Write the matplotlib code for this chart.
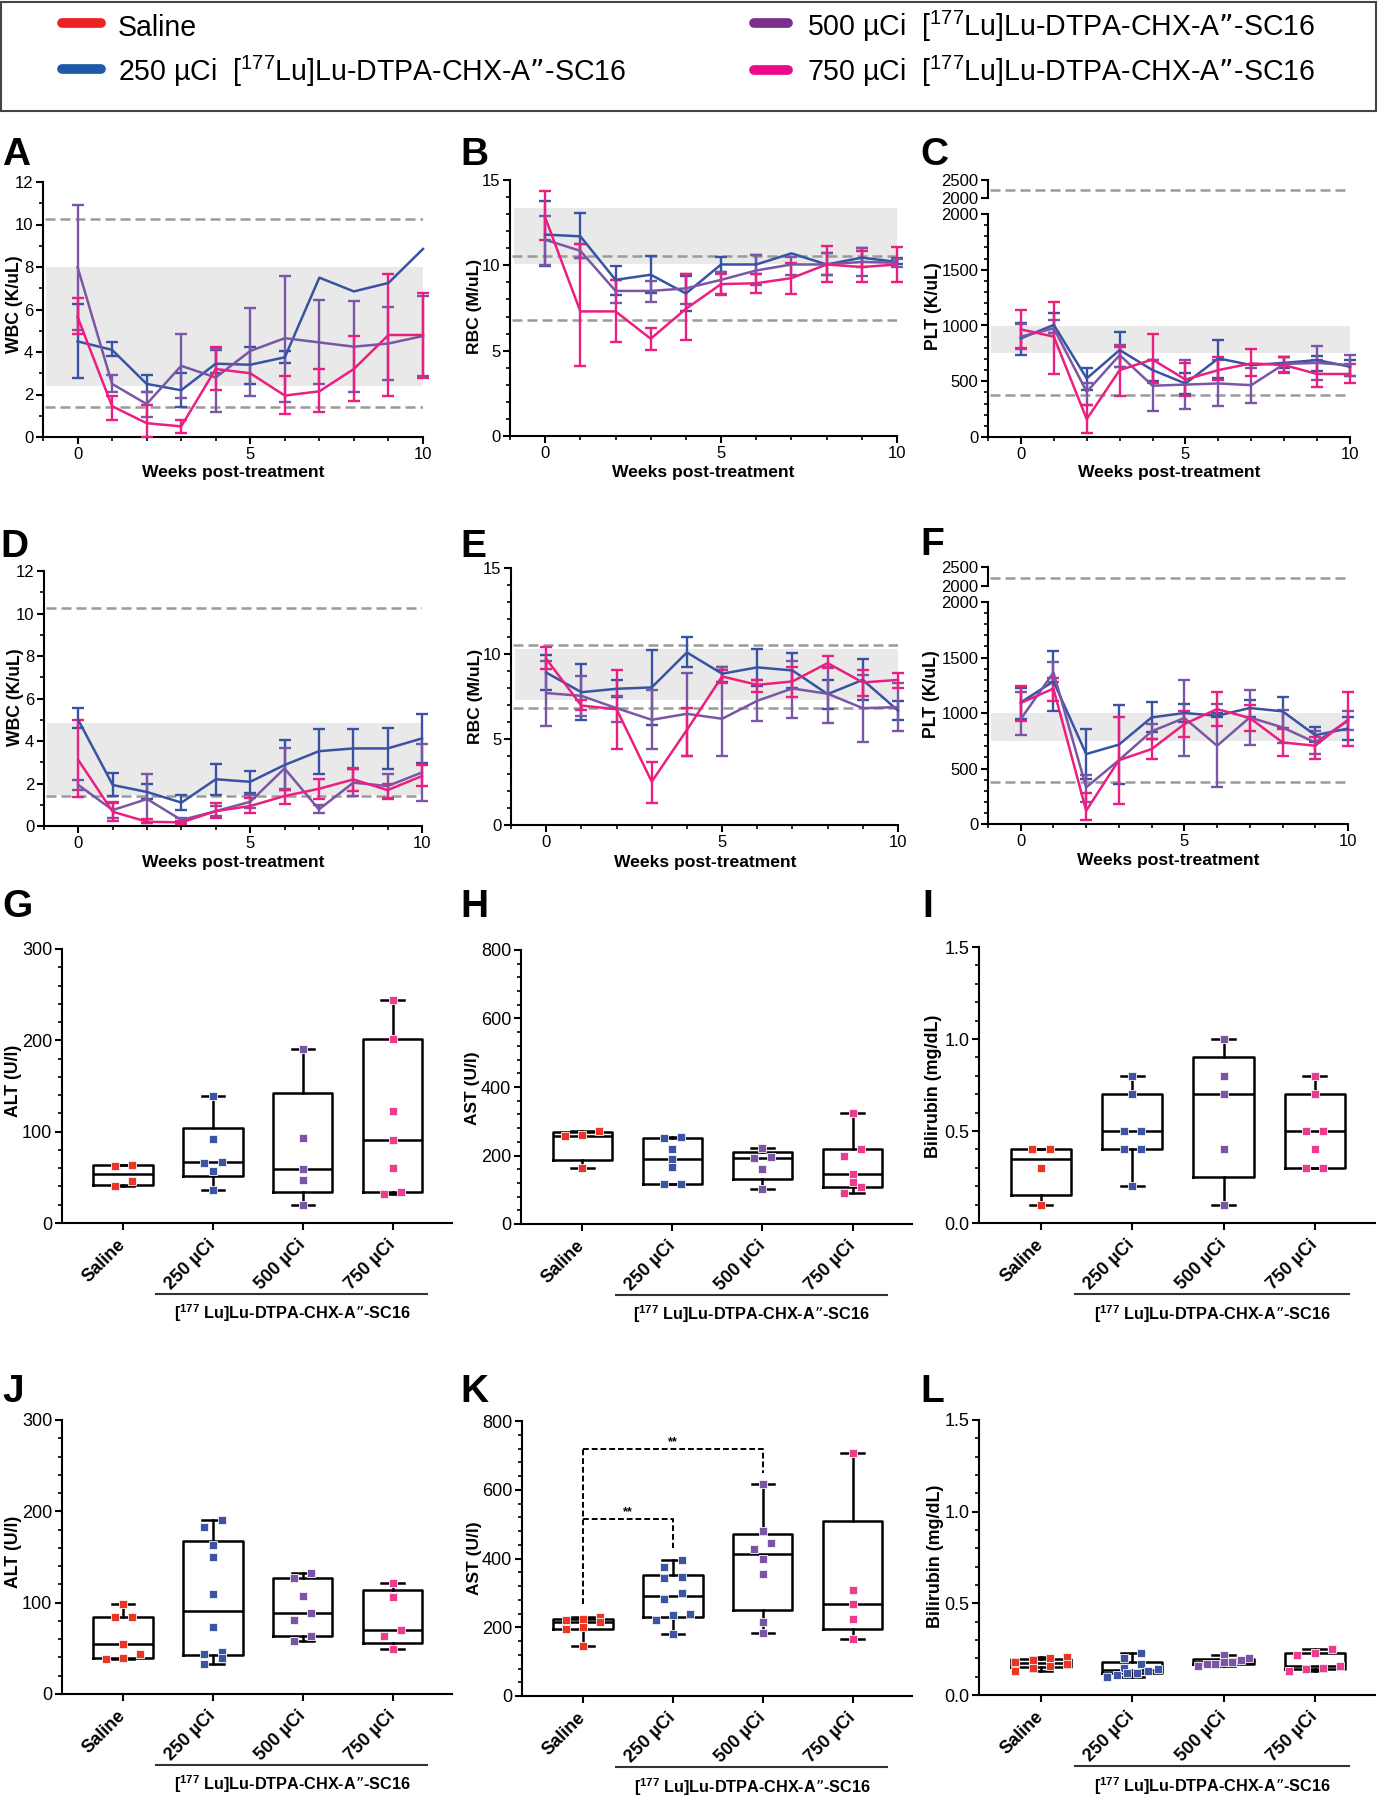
import numpy as np
import matplotlib
matplotlib.use('Agg')
import matplotlib.pyplot as plt
from matplotlib import font_manager as fm
from matplotlib.lines import Line2D
from matplotlib.patches import Rectangle
import matplotlib.ticker as mt
import matplotlib.transforms as mtrans

nan = np.nan

# ---------------------------------------------------------------- data
WEEKS = list(range(11))
GROUP_NAMES = ['Saline', '250 µCi', '500 µCi', '750 µCi']
LEGEND_LABELS = ['Saline',
                 '250 µCi  [$^{177}$Lu]Lu-DTPA-CHX-A”-SC16',
                 '500 µCi  [$^{177}$Lu]Lu-DTPA-CHX-A”-SC16',
                 '750 µCi  [$^{177}$Lu]Lu-DTPA-CHX-A”-SC16']
AGENT_LABEL = '[$^{177}$ Lu]Lu-DTPA-CHX-A”-SC16'

# Panel A  WBC
A_250 = [4.5, 4.1, 2.5, 2.2, 3.45, 3.4, 3.75, 7.5, 6.85, 7.25, 8.85]
A_250_lo = [2.8, 3.8, 2.1, 1.4, 3.0, 2.5, 3.5, nan, nan, nan, nan]
A_250_hi = [6.25, 4.45, 2.9, 3.0, 4.1, 4.25, 4.05, nan, nan, nan, nan]
A_500 = [8.0, 2.5, 1.55, 3.35, 2.8, 4.05, 4.65, 4.45, 4.25, 4.4, 4.75]
A_500_lo = [5.05, 2.1, 0.95, 1.85, 1.2, 1.95, 1.65, 2.5, 2.1, 2.7, 2.85]
A_500_hi = [10.9, 2.9, 2.1, 4.85, 4.15, 6.05, 7.6, 6.45, 6.4, 6.1, 6.65]
A_750 = [5.65, 1.45, 0.65, 0.5, 3.2, 3.0, 1.95, 2.15, 3.2, 4.8, 4.8]
A_750_lo = [4.85, 0.8, 0.0, 0.2, 2.2, nan, 1.1, 1.2, 1.7, 1.95, 2.8]
A_750_hi = [6.55, 1.95, 1.5, 0.8, 4.25, nan, 2.85, 3.2, 4.75, 7.65, 6.8]
A_band = [2.4, 8.0]
A_ref = [10.25, 1.42]

# Panel B  RBC
B_250 = [11.8, 11.7, 9.15, 9.45, 8.35, 10.05, 10.05, 10.7, 10.05, 10.45, 10.2]
B_250_lo = [9.95, 10.45, 8.25, 8.35, 7.35, 9.6, 9.5, nan, 9.45, 9.9, 10.1]
B_250_hi = [13.75, 13.05, 9.95, 10.55, 9.35, 10.5, 10.6, nan, 10.75, 11.0, 10.45]
B_500 = [11.5, 10.85, 8.5, 8.5, 8.65, 9.15, 9.7, 10.05, 10.05, 10.2, 10.15]
B_500_lo = [10.0, 10.45, 7.8, 7.85, 7.75, 8.3, 8.85, 9.45, 9.45, 9.4, 9.9]
B_500_hi = [12.9, 11.25, 9.15, 9.1, 9.5, 9.6, 10.6, 10.5, 10.7, 11.0, 10.4]
B_750 = [12.8, 7.3, 7.3, 5.7, 7.45, 8.9, 8.95, 9.25, 10.05, 9.9, 10.05]
B_750_lo = [11.5, 4.1, 5.5, 5.05, 5.65, 8.25, 8.35, 8.3, 9.05, 9.0, 9.05]
B_750_hi = [14.35, 11.25, 9.15, 6.35, 9.5, 9.5, 9.5, 10.15, 11.15, 10.85, 11.05]
B_band = [10.05, 13.35]
B_ref = [10.55, 6.82]

# Panel C  PLT
C_250 = [885, 1005, 525, 780, 600, 480, 705, 645, 665, 690, 630]
C_250_lo = [735, 930, 425, 630, 505, 385, 530, nan, 615, 595, 545]
C_250_hi = [1020, 1110, 620, 940, 695, 570, 870, nan, 715, 725, 690]
C_500 = [900, 975, 405, 735, 460, 470, 480, 465, 655, 665, 645]
C_500_lo = [790, 930, 285, 630, 235, 255, 275, 305, 575, 510, 545]
C_500_hi = [1010, 1050, 480, 825, 695, 690, 690, 615, 720, 820, 735]
C_750 = [965, 900, 160, 600, 695, 515, 600, 660, 645, 565, 565]
C_750_lo = [795, 565, 35, 370, 480, 365, 510, 545, 585, 450, 480]
C_750_hi = [1140, 1210, 285, 810, 925, 660, 715, 785, 720, 690, 655]
C_band = [750, 1000]
C_ref = [2210, 375]

# Panel D  WBC
D_250 = [4.98, 1.93, 1.6, 1.1, 2.2, 2.08, 2.87, 3.52, 3.65, 3.65, 4.12]
D_250_lo = [4.62, 1.4, 1.25, 0.75, 1.45, 1.55, 1.7, 2.43, 2.7, 2.68, 2.95]
D_250_hi = [5.53, 2.48, 1.96, 1.44, 2.9, 2.58, 4.07, 4.56, 4.57, 4.59, 5.25]
D_500 = [1.93, 0.75, 1.27, 0.28, 0.7, 1.14, 2.71, 0.78, 2.04, 1.88, 2.52]
D_500_lo = [1.69, 0.36, 0.13, 0.16, 0.47, 0.83, 1.75, 0.6, 1.43, 1.33, 1.17]
D_500_hi = [2.16, 1.14, 2.43, 0.39, 0.94, 1.46, 3.65, 0.99, 2.74, 2.43, 3.85]
D_750 = [3.1, 0.67, 0.2, 0.17, 0.7, 0.94, 1.41, 1.75, 2.19, 1.69, 2.35]
D_750_lo = [1.38, 0.24, 0.13, 0.09, 0.36, 0.6, 1.03, 1.25, 1.66, 1.25, 1.88]
D_750_hi = [4.98, 1.1, 0.31, 0.25, 1.1, 1.3, 1.69, 2.21, 2.68, 2.0, 2.87]
D_band = [1.45, 4.85]
D_ref = [10.25, 1.42]

# Panel E  RBC
E_250 = [8.9, 7.75, 7.95, 8.03, 10.07, 8.83, 9.2, 9.02, 7.64, 8.47, 6.68]
E_250_lo = [7.89, 6.14, 7.46, 5.81, 9.21, 8.32, 8.09, 8.0, 6.76, 7.27, 6.1]
E_250_hi = [9.94, 9.41, 8.47, 10.23, 10.95, 9.25, 10.29, 10.03, 8.47, 9.68, 7.21]
E_500 = [7.7, 7.54, 6.82, 6.14, 6.49, 6.2, 7.25, 7.97, 7.66, 6.82, 6.88]
E_500_lo = [5.75, 6.37, 6.04, 4.44, 4.05, 4.03, 6.08, 6.27, 5.94, 4.87, 5.51]
E_500_hi = [9.6, 8.67, 7.54, 7.89, 8.9, 9.2, 8.47, 9.6, 9.25, 8.73, 8.28]
E_750 = [9.7, 6.97, 6.76, 2.53, 5.55, 8.67, 8.18, 8.38, 9.45, 8.32, 8.47]
E_750_lo = [9.12, 6.72, 4.42, 1.31, 4.05, 8.28, 7.79, 7.46, 9.16, 7.54, 7.99]
E_750_hi = [10.4, 7.31, 9.06, 3.7, 6.82, 9.06, 8.47, 9.25, 9.84, 9.02, 8.86]
E_band = [7.27, 10.25]
E_ref = [10.5, 6.8]

# Panel F  PLT
F_250 = [1095, 1285, 630, 715, 960, 1000, 975, 1045, 1015, 800, 860]
F_250_lo = [945, 1015, 405, 360, 825, 915, 960, 960, 865, 735, 760]
F_250_hi = [1225, 1555, 855, 1070, 1100, 1085, 1000, 1120, 1145, 870, 960]
F_500 = [945, 1365, 330, 575, 835, 955, 705, 960, 870, 735, 930]
F_500_lo = [805, 1275, 200, nan, 765, 615, 330, 715, 730, 630, 850]
F_500_hi = [1185, 1460, 440, nan, 900, 1300, 1085, 1205, 1025, 840, 1015]
F_750 = [1090, 1220, 120, 575, 675, 900, 1035, 955, 735, 705, 940]
F_750_lo = [925, 1110, 35, 180, 585, 780, 880, 840, 610, 590, 705]
F_750_hi = [1245, 1315, 275, 960, 765, 1020, 1190, 1070, 860, 780, 1190]
F_band = [750, 1000]
F_ref = [2210, 375]

# Box panels (individual animals)
G_saline = [62.7, 63.8, 40.1, 45.6]
G_250 = [139, 92, 66, 67, 57, 36]
G_500 = [191, 93, 59, 47, 20]
G_750 = [244, 201, 123, 91, 60, 32, 34]
H_saline = [272, 256, 260, 164]
H_250 = [253, 250, 219, 190, 166, 118, 118]
H_500 = [222, 192, 197, 160, 103]
H_750 = [324, 220, 200, 146, 122, 107, 90]
I_saline = [0.4, 0.4, 0.3, 0.1]
I_250 = [0.8, 0.7, 0.5, 0.5, 0.4, 0.4, 0.2]
I_500 = [1.0, 0.8, 0.7, 0.4, 0.1]
I_750 = [0.8, 0.7, 0.5, 0.5, 0.4, 0.3, 0.3]
J_saline = [98, 84, 84, 55, 44, 38, 39]
J_250 = [190, 183, 163, 150, 109, 73, 46, 44, 39, 33]
J_500 = [132, 127, 107, 89, 81, 63, 58]
J_750 = [121, 106, 70, 63, 49]
K_saline = [230, 224, 220, 215, 200, 196, 145]
K_250 = [395, 375, 345, 343, 300, 283, 238, 235, 220, 180]
K_500 = [616, 479, 446, 429, 400, 356, 215, 183]
K_750 = [708, 309, 267, 223, 167]
L_saline = [0.21, 0.2, 0.19, 0.18, 0.17, 0.16, 0.15, 0.13]
L_250 = [0.23, 0.2, 0.17, 0.15, 0.14, 0.13, 0.12, 0.12, 0.11, 0.10]
L_500 = [0.22, 0.2, 0.19, 0.18, 0.18, 0.17, 0.17, 0.16]
L_750 = [0.25, 0.23, 0.22, 0.16, 0.15, 0.14, 0.13]

# Significance in K: (group a, group b, bracket height, drop end, label)
K_sig = [(1, 2, 514, 430, '**'), (1, 3, 718, 650, '**')]
K_sig_base = 268

# ---------------------------------------------------------------- style
LINE_COLORS = ['#3953a4', '#7a56a6', '#ec1f80']
BOX_COLORS = ['#ee3424', '#3b54a6', '#7b55a5', '#ee3a8f']
LEG_COLORS = ['#ee2024', '#1f5aa8', '#7d2f8e', '#ec098c']

W, H = 1378, 1800
fig = plt.figure(figsize=(W / 100, H / 100), dpi=100)

names = {f.name for f in fm.fontManager.ttflist}
BASE = 'Liberation Sans' if 'Liberation Sans' in names else 'DejaVu Sans'
NARROW = 'Liberation Sans Narrow' if 'Liberation Sans Narrow' in names else BASE
plt.rcParams['font.family'] = [BASE, 'DejaVu Sans']
plt.rcParams['mathtext.default'] = 'regular'

renderer = fig.canvas.get_renderer()


def px_axes(l, t, r, b):
    return fig.add_axes([l / W, 1 - b / H, (r - l) / W, (b - t) / H])


def ftext(x, y, s, **kw):
    return fig.text(x / W, 1 - y / H, s, **kw)


def fit_width(t, target, vertical=False):
    bb = t.get_window_extent(renderer)
    w = bb.height if vertical else bb.width
    if w > 0:
        t.set_fontsize(t.get_fontsize() * target / w)


def style(ax, labelsize=12):
    for s in ['top', 'right']:
        ax.spines[s].set_visible(False)
    for s in ['left', 'bottom']:
        ax.spines[s].set_linewidth(1.5)
    ax.tick_params(which='major', length=5, width=1.5, labelsize=labelsize,
                   pad=2, labelfontfamily=NARROW)
    ax.tick_params(which='minor', length=3, width=1.2)


def line_panel(rect, series, ylim, major, minor, band, refs):
    ax = px_axes(*rect)
    ax.fill_between([-0.9, 10], band[0], band[1], color='#e9e9e9', lw=0, zorder=0)
    for r in refs:
        ax.plot([-0.95, 10], [r, r], color='#9a9a9a', lw=1.8, dashes=(4, 2), zorder=1)
    for (m, lo, hi), col in zip(series, LINE_COLORS):
        m = np.asarray(m, float)
        lo = np.asarray(lo, float)
        hi = np.asarray(hi, float)
        ax.errorbar(WEEKS, m, yerr=[m - lo, hi - m], color=col, lw=1.8,
                    elinewidth=1.7, capsize=4, capthick=1.7, zorder=3, clip_on=False)
    ax.set_xlim(-1, 10)
    ax.set_ylim(*ylim)
    ax.xaxis.set_major_locator(mt.FixedLocator([0, 5, 10]))
    ax.xaxis.set_minor_locator(mt.MultipleLocator(1))
    ax.yaxis.set_major_locator(mt.MultipleLocator(major))
    ax.yaxis.set_minor_locator(mt.MultipleLocator(minor))
    style(ax)
    return ax


def plt_panel(rect_main, rect_top, series, band, refs):
    ax = line_panel(rect_main, series, (0, 2000), 500, 100, band, refs[1:])
    at = px_axes(*rect_top)
    at.set_xlim(-1, 10)
    at.set_ylim(2000, 2500)
    at.plot([-0.95, 10], [refs[0], refs[0]], color='#9a9a9a', lw=1.8, dashes=(4, 2))
    for s in ['top', 'right', 'bottom']:
        at.spines[s].set_visible(False)
    at.set_xticks([])
    at.set_yticks([2000, 2500])
    at.patch.set_alpha(0)
    style(at)
    return ax


def swarm(vals, ylim, h_px, thr=8.0, step=0.19, maxspan=0.56):
    v = np.asarray(vals, float)
    ypx = (v - ylim[0]) / (ylim[1] - ylim[0]) * h_px
    order = np.argsort(ypx, kind='stable')
    offs = np.zeros(len(v))
    groups, cur = [], [order[0]]
    for i in order[1:]:
        if ypx[i] - ypx[cur[0]] < thr:
            cur.append(i)
        else:
            groups.append(cur)
            cur = [i]
    groups.append(cur)
    for g in groups:
        k = len(g)
        st = step if k < 2 else min(step, maxspan / (k - 1))
        for j, idx in enumerate(g):
            offs[idx] = (j - (k - 1) / 2) * st
    return offs


def box_panel(rect, groups, ylim, major, minor, fmt=None):
    ax = px_axes(*rect)
    stats = []
    for g in groups:
        v = np.asarray(g, float)
        q1, med, q3 = np.percentile(v, [25, 50, 75], method='weibull')
        stats.append(dict(med=med, q1=q1, q3=q3, whislo=v.min(), whishi=v.max(), fliers=[]))
    lp = dict(color='black', linewidth=1.8)
    ax.bxp(stats, positions=[1, 2, 3, 4], widths=0.66, showfliers=False,
           boxprops=lp, whiskerprops=lp, capprops=lp, medianprops=lp,
           capwidths=0.25, manage_ticks=False)
    h_px = rect[3] - rect[1]
    for i, (g, col) in enumerate(zip(groups, BOX_COLORS)):
        offs = swarm(g, ylim, h_px)
        ax.scatter(i + 1 + offs, g, marker='s', s=40,
                   color=col, edgecolor='#f4f4f4', linewidth=0.6, zorder=4, clip_on=False)
    ax.set_xlim(0.32, 4.66)
    ax.set_ylim(*ylim)
    ax.yaxis.set_major_locator(mt.MultipleLocator(major))
    ax.yaxis.set_minor_locator(mt.MultipleLocator(minor))
    if fmt:
        ax.yaxis.set_major_formatter(mt.FormatStrFormatter(fmt))
    ax.set_xticks([1, 2, 3, 4])
    style(ax, labelsize=13)
    ax.set_xticklabels(GROUP_NAMES, rotation=45, ha='right', va='center',
                       rotation_mode='anchor', fontweight='bold', fontsize=13,
                       fontfamily=NARROW)
    ax.tick_params(axis='x', pad=9)
    tr = mtrans.blended_transform_factory(ax.transData, ax.transAxes)
    ax.plot([1.37, 4.38], [-0.259, -0.259], transform=tr, color='#333333',
            lw=1.5, clip_on=False)
    t = ax.text(2.88, -0.33, AGENT_LABEL, transform=tr, ha='center', va='center',
                fontweight='bold', fontsize=13, fontfamily=NARROW)
    fit_width(t, 236)
    return ax


# ---------------------------------------------------------------- legend
fig.add_artist(Rectangle((1 / W, 1 - 111 / H), 1375 / W, 109 / H,
                         transform=fig.transFigure, fill=False, ec='#444444', lw=1.5))
leg_pos = [(62, 101, 23, 118, 36), (62, 101, 69, 118, 81),
           (754, 788, 23, 807, 36), (754, 788, 70, 807, 81)]
size_ref = 23
saline_text = None
for (x0, x1, yl, xt, yb), lab, col in zip(leg_pos, LEGEND_LABELS, LEG_COLORS):
    fig.add_artist(Line2D([x0 / W, x1 / W], [1 - yl / H, 1 - yl / H], lw=7,
                          color=col, solid_capstyle='round', transform=fig.transFigure))
    t = ftext(xt, yb, lab, ha='left', va='baseline', fontsize=23, fontfamily=NARROW)
    if lab == 'Saline':
        saline_text = t
    else:
        fit_width(t, 510)
        size_ref = t.get_fontsize()
saline_text.set_fontsize(size_ref)

# ---------------------------------------------------------------- line panels
line_panel((43, 182, 423, 437),
           [(A_250, A_250_lo, A_250_hi), (A_500, A_500_lo, A_500_hi), (A_750, A_750_lo, A_750_hi)],
           (0, 12), 2, 1, A_band, A_ref)
line_panel((510, 180, 897, 436),
           [(B_250, B_250_lo, B_250_hi), (B_500, B_500_lo, B_500_hi), (B_750, B_750_lo, B_750_hi)],
           (0, 15), 5, 1, B_band, B_ref)
plt_panel((988, 214, 1350, 437), (988, 180, 1350, 198),
          [(C_250, C_250_lo, C_250_hi), (C_500, C_500_lo, C_500_hi), (C_750, C_750_lo, C_750_hi)],
          C_band, C_ref)
line_panel((44, 571, 422, 826),
           [(D_250, D_250_lo, D_250_hi), (D_500, D_500_lo, D_500_hi), (D_750, D_750_lo, D_750_hi)],
           (0, 12), 2, 1, D_band, D_ref)
line_panel((511, 568, 898, 825),
           [(E_250, E_250_lo, E_250_hi), (E_500, E_500_lo, E_500_hi), (E_750, E_750_lo, E_750_hi)],
           (0, 15), 5, 1, E_band, E_ref)
plt_panel((988, 602, 1348, 824), (988, 567, 1348, 586),
          [(F_250, F_250_lo, F_250_hi), (F_500, F_500_lo, F_500_hi), (F_750, F_750_lo, F_750_hi)],
          F_band, F_ref)

# ---------------------------------------------------------------- box panels
box_panel((62, 949, 452, 1223), [G_saline, G_250, G_500, G_750], (0, 300), 100, 20)
box_panel((521, 950, 912, 1224), [H_saline, H_250, H_500, H_750], (0, 800), 200, 40)
box_panel((979, 947, 1375, 1223), [I_saline, I_250, I_500, I_750], (0, 1.5), 0.5, 0.1, '%.1f')
box_panel((62, 1420, 452, 1694), [J_saline, J_250, J_500, J_750], (0, 300), 100, 20)
axK = box_panel((522, 1421, 912, 1696), [K_saline, K_250, K_500, K_750], (0, 800), 200, 40)
box_panel((979, 1420, 1375, 1695), [L_saline, L_250, L_500, L_750], (0, 1.5), 0.5, 0.1, '%.1f')

axK.plot([1, 1], [K_sig_base, max(s[2] for s in K_sig)], color='black', lw=1.4,
         dashes=(3, 1.5), zorder=2)
for a, b, hgt, drop, lab in K_sig:
    axK.plot([a, b, b], [hgt, hgt, drop], color='black', lw=1.4, dashes=(3, 1.5), zorder=2)
    axK.text((a + b) / 2, hgt + 4, lab, ha='center', va='bottom', fontsize=9,
             fontweight='bold')

# ---------------------------------------------------------------- labels
ylabels = [('WBC (K/uL)', 15, 304, 98), ('RBC (M/uL)', 474, 306, 95),
           ('PLT (K/uL)', 933, 306, 88), ('WBC (K/uL)', 16, 697, 98),
           ('RBC (M/uL)', 475, 696, 95), ('PLT (K/uL)', 932, 694, 88),
           ('ALT (U/l)', 14, 1081, 72), ('AST (U/l)', 473, 1088, 73),
           ('Bilirubin (mg/dL)', 934, 1086, 142), ('ALT (U/l)', 14, 1552, 72),
           ('AST (U/l)', 474, 1558, 73), ('Bilirubin (mg/dL)', 936, 1556, 142)]
for s, x, y, length in ylabels:
    t = ftext(x, y, s, rotation=90, ha='center', va='center', fontweight='bold',
              fontsize=12)
    fit_width(t, length, vertical=True)

xlabels = [(233, 473), (703, 472), (1169, 473), (233, 862), (705, 862), (1168, 860)]
for x, y in xlabels:
    t = ftext(x, y, 'Weeks post-treatment', ha='center', va='center', fontweight='bold',
              fontsize=12)
    fit_width(t, 182)

letters = [('A', 2, 165), ('B', 460, 165), ('C', 920, 165), ('D', 0, 557), ('E', 460, 557),
           ('F', 920, 555), ('G', 2, 917), ('H', 460, 917), ('I', 922, 917),
           ('J', 2, 1402), ('K', 460, 1402), ('L', 920, 1402)]
for s, x, y in letters:
    ftext(x, y, s, ha='left', va='baseline', fontweight='bold', fontsize=28)

fig.savefig('out.png', dpi=100)
